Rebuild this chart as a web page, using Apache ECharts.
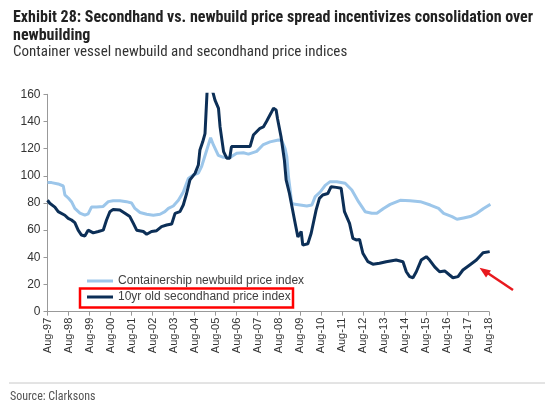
<!DOCTYPE html>
<html>
<head>
<meta charset="utf-8">
<script src="https://cdn.jsdelivr.net/npm/echarts@6/dist/echarts.min.js"></script>
<style>html,body{margin:0;padding:0;background:#fff}#c{width:550px;height:411px}</style>
</head>
<body>
<div id="c"></div>
<script>
// x values are months since Aug-97
var newbuildMonths = [0,2.3,6.1,9,9.9,12,13.7,15.6,18.5,21.3,23.2,25.1,28,31.8,34.7,37.5,41.3,45.1,48,49.9,52.8,56.6,60.4,64.2,67,69,71.8,74.7,77.5,80.4,83.2,86.1,88,90.9,93.1,94.7,97.5,100.4,104.2,108,111.8,114.7,119.4,123.2,127,131.8,133.7,135.6,136.6,137.5,138.5,139.4,141.3,144.2,148,150.9,152.8,155.6,158.5,161.3,165.1,169.9,173.7,177.5,181.3,185.1,188,191.8,195.6,201.3,207,212.8,218.5,223.2,226.1,230.9,233.7,237.5,241.3,245.1,248.9,252.8];
var newbuildValues = [95,95,94,92.5,86,83.5,81,76,72.5,71,72,77,77,77.5,81,81.7,81.7,81,80,76,73,71.7,71,71.7,73.6,76,77.8,82,88,98,100.6,102,107,119,128,122.7,115,113.6,113.6,116.6,117,116,118,123,125,126.4,126,120,114,100,89.6,79.8,79,78.5,77.8,78.5,84.7,88,93,95.7,95.7,94.5,89.6,81,73.6,72.4,72.4,76,79,82,81.7,81,78.5,76,72.4,70,68,69,70,72.4,76,79];
var secondhandMonths = [0,1.3,4.2,6.1,9.9,11.8,13.7,15.6,17.5,19.4,21.3,23.2,24.2,26.1,29,31.8,33.7,35.6,37.5,41.3,44.2,47,49,50.9,54.7,56.6,59.4,62.3,65.1,68,70.9,72.8,75.6,77.5,79.4,81.3,84.2,86.1,87,88.6,89.9,91.2,93.7,95.6,97.6,98.5,100.5,102.3,104,105,115.6,117.5,121.3,123.2,125,127.5,129,130.5,131.3,133.3,135.2,136.2,138.1,141,142.9,144.8,145.7,148.6,150.5,153.3,155.2,157.1,160,161.9,164.8,167.6,169.5,172.4,174.3,176.2,178.1,180,182.9,185.7,189.5,193.3,199,202.9,204.8,206.7,208.6,210.5,213.3,216.2,218.1,221,223.8,226.7,229.5,231.4,234.3,237.1,241,244.8,248.6,252.4];
var secondhandValues = [82,79.8,77,73.6,71,68.7,67.5,65.5,60,56.4,55.7,60,61.3,58,59,60,67.5,73.6,75.3,74.8,72.4,70,65,60,59,57,59,59.6,62.6,63.8,64.5,72.4,73.6,78.5,87,97,101.8,108,119,125,131,165,165,155.7,149.7,136,117.8,113,113,121.5,121.5,130,135,136,140,146,149.7,148.5,142,128.8,111.7,97,87,67.5,55,59,49,50,57.7,74.8,83.4,85.9,87,92,91.5,90.8,73.6,65,54,52.8,53.2,43,36.8,35,35.6,36.8,38,36.8,29.4,25.8,25,29.4,38,40.5,38,33,29.4,30,27,25,25.8,30.7,34.4,38,43.4,44.2];
var seriesNames = ['Containership newbuild price index','10yr old secondhand price index'];

function pairs(xs, ys){ return xs.map(function(x,i){ return [x, ys[i]]; }); }

var chart = echarts.init(document.getElementById('c'));
var narrow = '"Liberation Sans Narrow","Arial Narrow","Roboto Condensed",sans-serif';
chart.setOption({
  animation: false,
  backgroundColor: '#fff',
  title: [{
    text: 'Exhibit 28: Secondhand vs. newbuild price spread incentivizes consolidation over\nnewbuilding',
    left: 8, top: 4,
    textStyle: {fontFamily: narrow, fontWeight: 'bold', fontSize: 16, color: '#222', lineHeight: 18}
  },{
    text: 'Container vessel newbuild and secondhand price indices',
    left: 8, top: 40,
    textStyle: {fontFamily: narrow, fontWeight: 'normal', fontSize: 15, color: '#333'}
  }],
  grid: {left: 47.5, right: 61, top: 94.3, bottom: 99.3, containLabel: false},
  legend: {
    orient: 'vertical', left: 82, top: 270, padding: [5,5,5,5],
    itemWidth: 26, itemHeight: 3, itemGap: 4, icon: 'rect',
    textStyle: {fontFamily: 'Arial, "Liberation Sans", sans-serif', fontSize: 12, color: '#404040'},
    data: seriesNames
  },
  xAxis: {
    type: 'value', min: 0, max: 252, interval: 12,
    splitLine: {show: false},
    axisLine: {lineStyle: {color: '#999'}},
    axisTick: {show: true, length: 4, lineStyle: {color: '#999'}},
    axisLabel: {
      rotate: 90, fontSize: 11, color: '#333', margin: 6,
      fontFamily: 'Arial, "Liberation Sans", sans-serif',
      formatter: function(v){ var y = (97 + Math.round(v/12)) % 100; return 'Aug-' + (y<10?'0':'') + y; }
    }
  },
  yAxis: {
    type: 'value', min: 0, max: 160, interval: 20,
    splitLine: {show: false},
    axisLine: {show: true, lineStyle: {color: '#999'}},
    axisTick: {show: true, length: 4, lineStyle: {color: '#999'}},
    axisLabel: {fontSize: 12, color: '#333', margin: 7, fontFamily: 'Arial, "Liberation Sans", sans-serif'}
  },
  series: [{
    name: seriesNames[0], type: 'line', showSymbol: false, symbol: 'none', clip: true,
    data: pairs(newbuildMonths, newbuildValues),
    lineStyle: {color: '#9cc6ea', width: 3},
    itemStyle: {color: '#9cc6ea'}
  },{
    name: seriesNames[1], type: 'line', showSymbol: false, symbol: 'none', clip: true,
    data: pairs(secondhandMonths, secondhandValues),
    lineStyle: {color: '#0c2f57', width: 3},
    itemStyle: {color: '#0c2f57'}
  }],
  graphic: [
    {type: 'rect', shape: {x: 80, y: 288.5, width: 213, height: 19}, style: {fill: 'none', stroke: '#f00', lineWidth: 2.5}},
    {type: 'line', shape: {x1: 513, y1: 290, x2: 485, y2: 271.3}, style: {stroke: '#e8191e', lineWidth: 2.5}},
    {type: 'polygon', shape: {points: [[479.5,267.8],[491,270.5],[486,277.5]]}, style: {fill: '#e8191e'}},
    {type: 'line', shape: {x1: 9, y1: 383, x2: 545, y2: 383}, style: {stroke: '#c8c8c8', lineWidth: 1}},
    {type: 'text', left: 10, top: 391, style: {text: 'Source: Clarksons', fontFamily: narrow, fontSize: 12, fill: '#555'}}
  ]
});
</script>
</body>
</html>
